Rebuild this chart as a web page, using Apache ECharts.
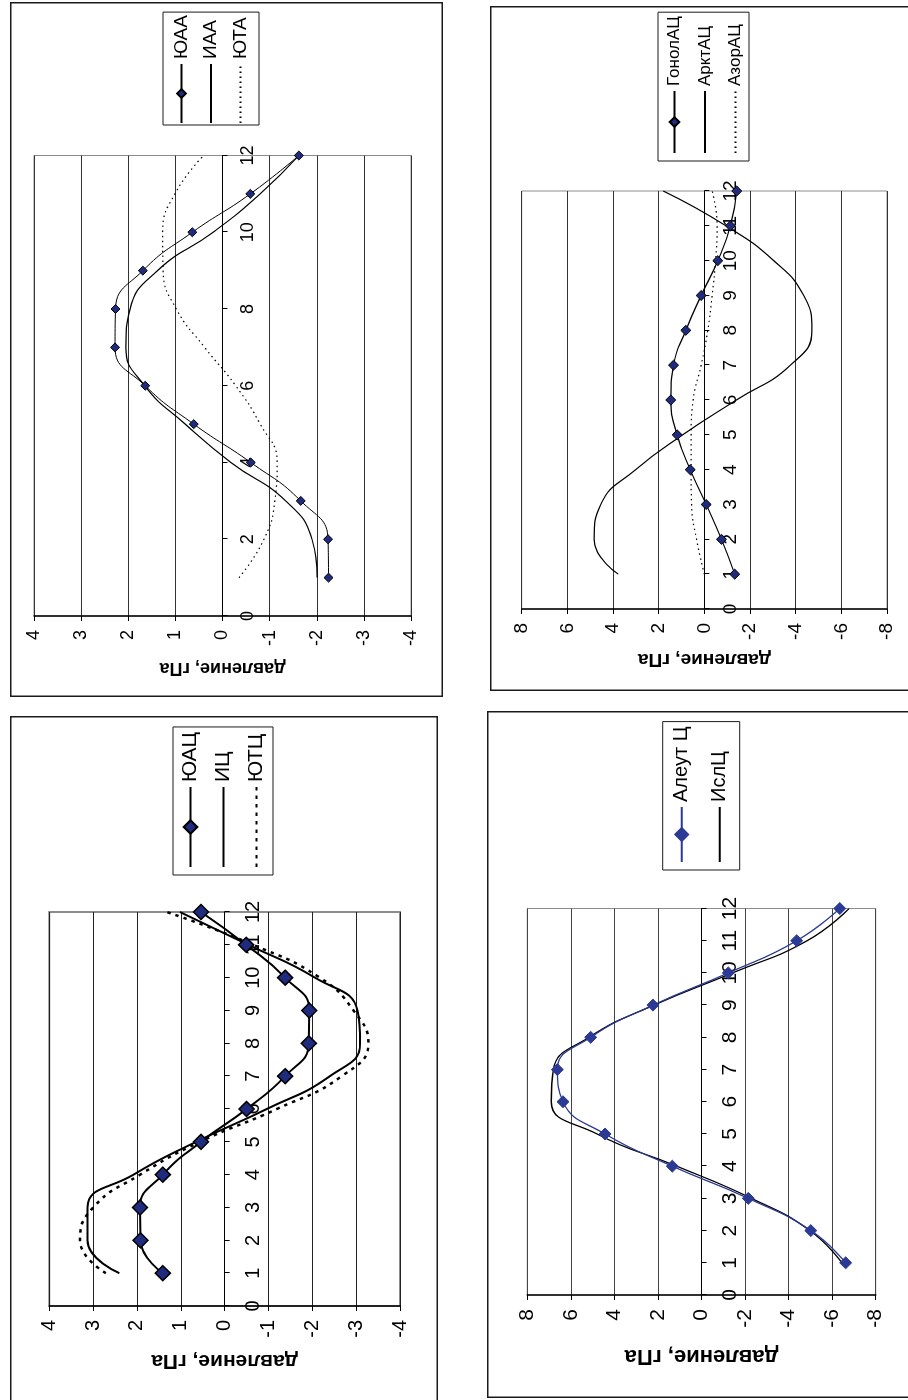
<!DOCTYPE html>
<html>
<head>
<meta charset="utf-8">
<title>Годовой ход давления в центрах действия атмосферы</title>
<script src="https://cdn.jsdelivr.net/npm/echarts@6/dist/echarts.min.js"></script>
<style>
  html, body { margin: 0; padding: 0; width: 908px; height: 1400px; overflow: hidden; background: #fff; }
  .panel { position: absolute; left: 0; top: 0; transform-origin: 0 0; }
</style>
</head>
<body>
<script>
// ---------- data ----------
const months = [1, 2, 3, 4, 5, 6, 7, 8, 9, 10, 11, 12];
const pressureTitle = 'давление, гПа';

// Panel 1: антициклоны южного полушария
const namesAA = ['ЮАА', 'ИАА', 'ЮТА'];
const yuaa = [-2.25, -2.24, -1.66, -0.60, 0.61, 1.64, 2.28, 2.27, 1.69, 0.64, -0.59, -1.62];
const iaa  = [-2.01, -1.90, -1.34, -0.18, 0.79, 1.65, 2.05, 1.96, 1.38, 0.20, -0.80, -1.62];
const yuta = [-0.35, -0.88, -1.11, -1.16, -0.80, -0.28, 0.38, 0.98, 1.26, 1.27, 1.01, 0.40];
const monthTicksAA = [0, 2, 4, 6, 8, 10, 12];
const pressureTicksAA = [-4, -3, -2, -1, 0, 1, 2, 3, 4];

// Panel 2: антициклоны северного полушария
const namesAC = ['ГонолАЦ', 'АрктАЦ', 'АзорАЦ'];
const gonolac = [-1.33, -0.75, -0.08, 0.62, 1.19, 1.47, 1.35, 0.81, 0.14, -0.59, -1.14, -1.42];
const arktac  = [3.77, 4.83, 4.54, 3.01, 0.95, -1.40, -3.77, -4.71, -4.35, -3.04, -0.95, 1.80];
const azorac  = [0.00, 0.34, 0.56, 0.58, 0.58, 0.49, 0.14, -0.15, -0.34, -0.49, -0.56, -0.34];
const monthTicksAC = [0, 1, 2, 3, 4, 5, 6, 7, 8, 9, 10, 11, 12];
const pressureTicksAC = [-8, -6, -4, -2, 0, 2, 4, 6, 8];

// Panel 3: циклоны южного полушария
const namesSC = ['ЮАЦ', 'ИЦ', 'ЮТЦ'];
const yuac = [1.41, 1.92, 1.93, 1.41, 0.54, -0.50, -1.38, -1.92, -1.93, -1.38, -0.49, 0.54];
const ic   = [2.40, 3.13, 3.13, 2.08, 0.65, -0.96, -2.40, -3.09, -3.03, -2.06, -0.54, 1.02];
const yutc = [2.71, 3.30, 3.00, 1.93, 0.56, -1.19, -2.67, -3.28, -2.94, -2.17, -0.65, 1.32];
const monthTicksSC = [0, 1, 2, 3, 4, 5, 6, 7, 8, 9, 10, 11, 12];
const pressureTicksSC = [-4, -3, -2, -1, 0, 1, 2, 3, 4];

// Panel 4: циклоны северного полушария
const namesNC = ['Алеут Ц', 'ИслЦ'];
const aleutc = [-6.62, -5.02, -2.15, 1.34, 4.43, 6.36, 6.62, 5.09, 2.23, -1.23, -4.37, -6.35];
const islc   = [-6.45, -4.98, -2.30, 1.14, 4.80, 6.90, 6.80, 5.17, 2.18, -1.42, -4.85, -6.78];
const monthTicksNC = [0, 1, 2, 3, 4, 5, 6, 7, 8, 9, 10, 11, 12];
const pressureTicksNC = [-8, -6, -4, -2, 0, 2, 4, 6, 8];

// ---------- styling ----------
const FONT = '"Liberation Sans", Arial, Helvetica, sans-serif';
const NAVY = '#1f2b7e';
const BLUE = '#2b3a94';

function pairs(xs, ys) { return xs.map((x, i) => [x, ys[i]]); }
function tickRange(ticks) {
  const min = Math.min(...ticks), max = Math.max(...ticks);
  return { min, max, interval: (max - min) / (ticks.length - 1) };
}

// Each panel is laid out as an ordinary chart and then turned a quarter
// turn counter-clockwise, so the month axis runs upwards on the page.
// Geometry below is given in page coordinates and converted to the
// chart's own (unrotated) frame.
function makePanel(p) {
  const f = p.frame;
  const W = f.bottom - f.top;       // unrotated width
  const H = f.right - f.left;       // unrotated height
  const el = document.createElement('div');
  el.className = 'panel';
  el.style.width = W + 'px';
  el.style.height = H + 'px';
  el.style.transform = 'translate(' + f.left + 'px,' + f.bottom + 'px) rotate(-90deg)';
  document.body.appendChild(el);

  const chart = echarts.init(el, null, { renderer: 'canvas', width: W, height: H });

  const g = p.plot;
  const grid = {
    left: f.bottom - g.month0Y,
    right: g.month12Y - f.top,
    top: g.pMaxX - f.left,
    bottom: f.right - g.pMinX,
    show: true,
    borderColor: p.style.border,
    borderWidth: p.style.borderWidth,
    backgroundColor: 'transparent',
    containLabel: false,
    outerBoundsMode: 'none'
  };

  const xr = tickRange(p.monthTicks);
  const yr = tickRange(p.pressureTicks);

  // the month axis crosses the pressure axis at zero
  const plotHeight = H - grid.top - grid.bottom;
  const zeroFromBottom = (0 - yr.min) / (yr.max - yr.min) * plotHeight;

  const series = p.series.map(s => ({
    name: s.name,
    type: 'line',
    data: pairs(months, s.values),
    smooth: 0.5,
    symbol: s.marker ? 'diamond' : 'none',
    symbolSize: s.markerSize || 0,
    showSymbol: !!s.marker,
    itemStyle: { color: s.fill || '#000', borderColor: s.stroke || '#000', borderWidth: s.markerBorder || 1 },
    lineStyle: { color: s.color || '#000', width: s.width, type: s.dash || 'solid', cap: 'butt' },
    emphasis: { disabled: true },
    z: s.z || 2
  }));

  const L = p.legend;
  const option = {
    animation: false,
    textStyle: { fontFamily: FONT },
    grid: grid,
    graphic: [{
      type: 'rect', silent: true, z: 100,
      shape: { x: 0.75, y: 0.75, width: W - 1.5, height: H - 1.5 },
      style: { fill: null, stroke: '#1a1a1a', lineWidth: 1.5 }
    }],
    legend: {
      orient: 'vertical',
      left: f.bottom - L.boxBottomY,
      top: L.boxLeftX - f.left,
      padding: L.padding,
      itemWidth: L.itemWidth,
      itemHeight: L.itemHeight,
      itemGap: L.itemGap,
      borderColor: '#1a1a1a',
      borderWidth: 1,
      backgroundColor: '#fff',
      selectedMode: false,
      textStyle: { fontFamily: FONT, fontSize: L.fontSize, color: '#000' },
      data: p.series.map(s => s.marker ? { name: s.name }
        : { name: s.name, itemStyle: { opacity: 0, color: 'rgba(0,0,0,0)', borderColor: 'rgba(0,0,0,0)' } })
    },
    xAxis: {
      type: 'value',
      position: 'bottom',
      offset: -zeroFromBottom,
      min: xr.min, max: xr.max, interval: xr.interval,
      axisLine: { show: true, onZero: false, lineStyle: { color: '#000', width: 1 } },
      axisTick: { show: true, length: 5, lineStyle: { color: '#000', width: 1 } },
      splitLine: { show: false },
      axisLabel: {
        margin: p.style.monthLabelMargin, fontSize: p.style.tickFont, fontFamily: FONT, color: '#000',
        showMinLabel: true, showMaxLabel: true, hideOverlap: false
      }
    },
    yAxis: {
      type: 'value',
      min: yr.min, max: yr.max, interval: yr.interval,
      axisLine: { show: true, onZero: false, lineStyle: { color: '#000', width: 1.5 } },
      axisTick: { show: true, length: 5, lineStyle: { color: '#000', width: 1 } },
      splitLine: { show: true, lineStyle: { color: p.style.grid, width: 1 } },
      axisLabel: {
        margin: 14, fontSize: p.style.tickFont, fontFamily: FONT, color: '#000',
        showMinLabel: true, showMaxLabel: true, hideOverlap: false
      },
      name: pressureTitle,
      nameLocation: 'middle',
      nameGap: p.style.nameGap,
      nameMoveOverlap: false,
      nameTextStyle: { fontFamily: FONT, fontWeight: 'bold', fontSize: p.style.titleFont, color: '#000' }
    },
    series: series
  };
  chart.setOption(option);
  return chart;
}

// ---------- panels ----------
makePanel({
  frame: { left: 10, right: 443, top: 2, bottom: 697 },
  plot: { month0Y: 616, month12Y: 155.5, pMaxX: 34, pMinX: 411 },
  monthTicks: monthTicksAA, pressureTicks: pressureTicksAA,
  style: { border: '#8c8c8c', borderWidth: 1, grid: '#333', tickFont: 18, titleFont: 18, monthLabelMargin: 17, nameGap: 43 },
  legend: { boxLeftX: 163, boxBottomY: 125, padding: [9, 3, 9, 1], itemWidth: 59, itemHeight: 11, itemGap: 10.5, fontSize: 19 },
  series: [
    { name: namesAA[0], values: yuaa, marker: true, markerSize: 9, fill: NAVY, width: 1, z: 3 },
    { name: namesAA[1], values: iaa, width: 1.2 },
    { name: namesAA[2], values: yuta, width: 1.2, dash: [1.5, 3.5] }
  ]
});

makePanel({
  frame: { left: 490, right: 920, top: 6, bottom: 691 },
  plot: { month0Y: 609, month12Y: 191, pMaxX: 521.7, pMinX: 887 },
  monthTicks: monthTicksAC, pressureTicks: pressureTicksAC,
  style: { border: '#8c8c8c', borderWidth: 1, grid: '#333', tickFont: 19, titleFont: 19, monthLabelMargin: 17, nameGap: 41 },
  legend: { boxLeftX: 658, boxBottomY: 161, padding: [8, 4, 5, 7], itemWidth: 62, itemHeight: 12, itemGap: 13.5, fontSize: 17 },
  series: [
    { name: namesAC[0], values: gonolac, marker: true, markerSize: 10, fill: NAVY, width: 1.2, z: 3 },
    { name: namesAC[1], values: arktac, width: 1.2 },
    { name: namesAC[2], values: azorac, width: 1.2, dash: [1.5, 3.5] }
  ]
});

makePanel({
  frame: { left: 10, right: 438, top: 716, bottom: 1404 },
  plot: { month0Y: 1306, month12Y: 912, pMaxX: 49.3, pMinX: 400 },
  monthTicks: monthTicksSC, pressureTicks: pressureTicksSC,
  style: { border: '#8c8c8c', borderWidth: 2, grid: '#222', tickFont: 20, titleFont: 21, monthLabelMargin: 19, nameGap: 44 },
  legend: { boxLeftX: 173, boxBottomY: 875, padding: [7, 5, 6, 7], itemWidth: 80, itemHeight: 17, itemGap: 12, fontSize: 21 },
  series: [
    { name: namesSC[0], values: yuac, marker: true, markerSize: 15, fill: NAVY, markerBorder: 1.5, width: 2, z: 3 },
    { name: namesSC[1], values: ic, width: 2 },
    { name: namesSC[2], values: yutc, width: 2.5, dash: [3.5, 5] }
  ]
});

makePanel({
  frame: { left: 487, right: 920, top: 711, bottom: 1398 },
  plot: { month0Y: 1295, month12Y: 908.5, pMaxX: 527.3, pMinX: 875.7 },
  monthTicks: monthTicksNC, pressureTicks: pressureTicksNC,
  style: { border: '#8c8c8c', borderWidth: 1, grid: '#444', tickFont: 21, titleFont: 22, monthLabelMargin: 18, nameGap: 50 },
  legend: { boxLeftX: 662.7, boxBottomY: 870, padding: [9, 5, 10, 7], itemWidth: 55, itemHeight: 16, itemGap: 18, fontSize: 20 },
  series: [
    { name: namesNC[0], values: aleutc, marker: true, markerSize: 12, fill: BLUE, stroke: BLUE, color: BLUE, width: 1.3, z: 3 },
    { name: namesNC[1], values: islc, width: 1.3 }
  ]
});
</script>
</body>
</html>
